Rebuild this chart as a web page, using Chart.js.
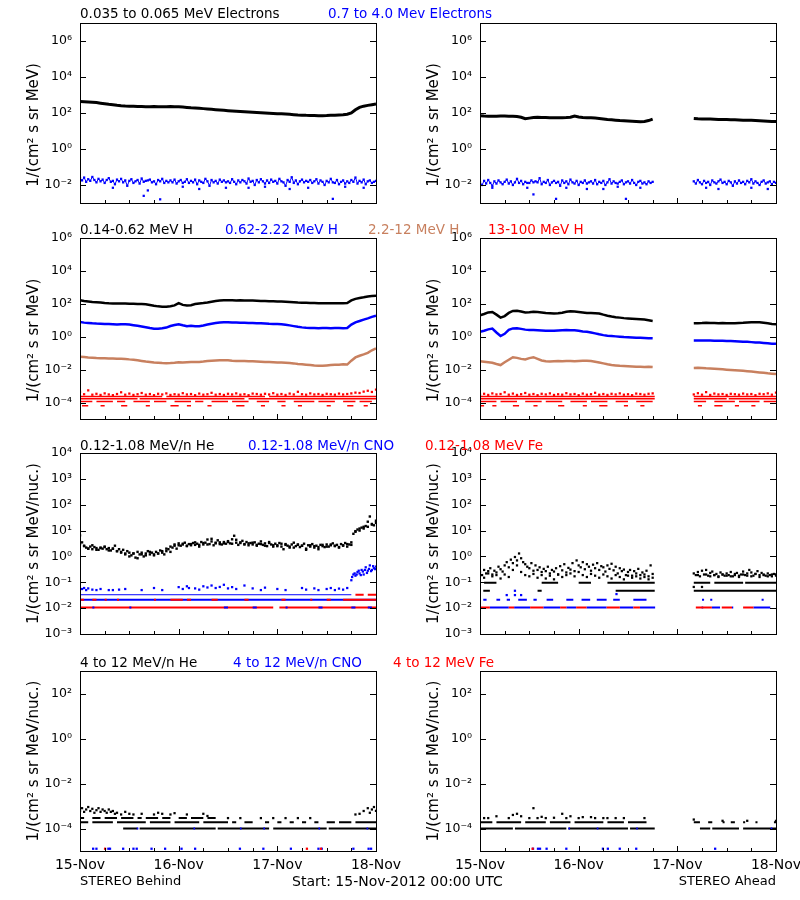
<!DOCTYPE html>
<html>
<head>
<meta charset="utf-8">
<script src="https://cdn.jsdelivr.net/npm/chart.js@4.4.1/dist/chart.umd.min.js"></script>
<style>
  body { margin: 0; background: #fff; }
  #page { position: relative; width: 800px; height: 900px; overflow: hidden; font-family: "DejaVu Sans", sans-serif; }
  canvas { position: absolute; }
  .t { position: absolute; font-size: 13.5px; line-height: 16px; white-space: nowrap; }
</style>
</head>
<body>
<div id="page">
  <canvas id="c1b" width="410" height="200" style="left:0;top:13px"></canvas>
  <canvas id="c1a" width="400" height="200" style="left:400px;top:13px"></canvas>
  <canvas id="c2b" width="410" height="201" style="left:0;top:228px"></canvas>
  <canvas id="c2a" width="400" height="201" style="left:400px;top:228px"></canvas>
  <canvas id="c3b" width="410" height="201" style="left:0;top:443px"></canvas>
  <canvas id="c3a" width="400" height="201" style="left:400px;top:443px"></canvas>
  <canvas id="c4b" width="410" height="225" style="left:0;top:661px"></canvas>
  <canvas id="c4a" width="400" height="225" style="left:400px;top:661px"></canvas>

  <div class="t" style="left:80px;top:5px;color:#000">0.035 to 0.065 MeV Electrons</div>
  <div class="t" style="left:328px;top:5px;color:#0000ff">0.7 to 4.0 Mev Electrons</div>

  <div class="t" style="left:80px;top:221px;color:#000">0.14-0.62 MeV H</div>
  <div class="t" style="left:225px;top:221px;color:#0000ff">0.62-2.22 MeV H</div>
  <div class="t" style="left:368px;top:221px;color:#c8805f">2.2-12 MeV H</div>
  <div class="t" style="left:488px;top:221px;color:#ff0000">13-100 MeV H</div>

  <div class="t" style="left:80px;top:437px;color:#000">0.12-1.08 MeV/n He</div>
  <div class="t" style="left:248px;top:437px;color:#0000ff">0.12-1.08 MeV/n CNO</div>
  <div class="t" style="left:425px;top:437px;color:#ff0000">0.12-1.08 MeV Fe</div>

  <div class="t" style="left:80px;top:654px;color:#000">4 to 12 MeV/n He</div>
  <div class="t" style="left:233px;top:654px;color:#0000ff">4 to 12 MeV/n CNO</div>
  <div class="t" style="left:393px;top:654px;color:#ff0000">4 to 12 MeV Fe</div>

  <div class="t" style="left:80px;top:873px;font-size:13px">STEREO Behind</div>
  <div class="t" style="left:292px;top:873px;font-size:14px">Start: 15-Nov-2012 00:00 UTC</div>
  <div class="t" style="right:24px;top:873px;font-size:13px">STEREO Ahead</div>
</div>
<script>
// ---- axes ----
const dayTicks = [0, 24, 48, 72];
const dayLabels = ['15-Nov', '16-Nov', '17-Nov', '18-Nov'];
const rowRanges = [[1e-3, 1e7], [1e-5, 1e6], [1e-3, 1e4], [1e-5, 1e3]];
const rowExps = [[-2, 0, 2, 4, 6], [-4, -2, 0, 2, 4, 6], [-3, -2, -1, 0, 1, 2, 3, 4], [-4, -2, 0, 2]];
const elecTitle = '1/(cm\u00b2 s sr MeV)     ';
const nucTitle = '1/(cm\u00b2 s sr MeV/nuc.)';

// ---- row 1: electrons (hourly / half-hourly) ----
const eBlackB = [430,420,410,400,380,350,325,305,290,270,255,245,
  240,235,230,228,226,224,230,226,222,225,228,224,
  222,215,205,196,190,182,175,168,160,152,146,140,
  135,130,126,122,118,114,110,107,104,100,97,94,
  92,90,87,84,81,78,76,74,73,72,70,71,
  72,74,76,78,80,85,100,150,205,240,265,290,
  316];
const eBlackA = [70,68,67,66,67,68,68,67,66,64,58,48,
  52,56,58,57,56,55,55,54,55,56,58,68,
  60,57,55,54,52,50,47,44,42,40,38,37,
  36,35,34,33,34,38,46,
  null,null,null,null,null,null,null,null,null,
  50,48,47,46,46,45,44,44,43,42,42,41,40,40,39,38,37,36,35,34,34];
const eBlueB = [0.024,0.018,0.026,0.015,0.021,0.017,0.028,0.019,0.014,0.022,0.016,0.020,
  0.013,0.019,0.024,0.015,0.017,0.011,0.020,0.016,0.022,0.014,0.018,0.009,
  0.017,0.021,0.013,0.016,0.019,0.012,0.023,0.015,0.017,0.018,0.020,0.014,
  0.016,0.011,0.019,0.016,0.022,0.013,0.017,0.014,0.018,0.014,0.020,0.012,
  0.016,0.019,0.013,0.015,0.021,0.013,0.017,0.014,0.020,0.011,0.018,0.015,
  0.013,0.022,0.016,0.009,0.019,0.014,0.017,0.012,0.020,0.015,0.018,0.014,
  0.016,0.013,0.021,0.015,0.011,0.018,0.014,0.019,0.016,0.012,0.023,0.015,
  0.017,0.010,0.019,0.014,0.021,0.016,0.012,0.018,0.013,0.020,0.015,0.017,
  0.012,0.022,0.016,0.014,0.009,0.019,0.015,0.027,0.013,0.018,0.011,0.016,
  0.020,0.014,0.017,0.015,0.019,0.013,0.016,0.021,0.012,0.018,0.015,0.010,
  0.017,0.014,0.022,0.014,0.013,0.019,0.011,0.015,0.018,0.012,0.016,0.013,
  0.019,0.015,0.026,0.012,0.017,0.014,0.020,0.011,0.016,0.018,0.013,0.015,
  0.017];
const eBlueOutB = [[15.5,0.0025],[16.5,0.005],[19.5,0.0016],[25,0.008],[35.5,0.007],[45,0.008],
  [55.5,0.007],[61.5,0.0017],[64.5,0.008],[8,0.007],[29,0.006],[41,0.007],[51,0.006],[69,0.007]];
const eBlueA = [0.014,0.010,0.017,0.012,0.019,0.013,0.009,0.016,0.012,0.018,0.014,0.011,
  0.015,0.020,0.012,0.016,0.010,0.014,0.022,0.013,0.017,0.011,0.015,0.013,
  0.013,0.018,0.014,0.016,0.014,0.024,0.011,0.015,0.013,0.019,0.010,0.014,
  0.017,0.013,0.015,0.009,0.018,0.013,0.016,0.011,0.020,0.014,0.012,0.017,
  0.010,0.015,0.013,0.018,0.012,0.014,0.016,0.012,0.019,0.011,0.015,0.013,
  0.017,0.010,0.014,0.021,0.012,0.016,0.013,0.012,0.015,0.018,0.011,0.014,
  0.016,0.012,0.019,0.013,0.010,0.015,0.017,0.012,0.014,0.011,0.016,0.013,
  0.015,
  null,null,null,null,null,null,null,null,null,null,null,null,null,null,null,null,null,null,null,
  0.016,0.012,0.019,0.014,0.011,0.017,0.013,0.015,0.010,0.018,0.014,0.012,
  0.016,0.020,0.013,0.015,0.011,0.017,0.014,0.009,0.016,0.012,0.018,0.013,
  0.015,0.011,0.017,0.014,0.021,0.012,0.016,0.013,0.010,0.015,0.018,0.012,
  0.014,0.016,0.011,0.015,0.013];
const eBlueOutA = [[11.5,0.007],[13,0.003],[18.5,0.0017],[26,0.006],[33.5,0.008],[35.5,0.0017],
  [3,0.007],[21,0.007],[30,0.006],[39,0.007],[55,0.007],[58,0.006],[66,0.007],[70,0.006]];

// ---- row 2: protons (hourly) ----
const hBlackB = [166,150,140,130,125,120,112,108,106,105,104,105,
  100,102,98,96,95,85,76,70,67,66,72,80,
  110,86,80,83,98,105,112,122,135,150,160,165,
  166,164,160,162,160,158,158,155,150,148,145,142,
  140,138,135,130,125,120,118,115,113,112,110,110,
  108,109,110,108,110,112,160,200,225,250,282,295,
  309];
const hBlueB = [7.9,7.2,6.8,6.5,6.3,6.2,6.0,6.0,5.8,5.6,5.8,5.8,
  5.5,5.0,4.6,4.2,3.8,3.4,3.1,3.1,3.3,3.6,4.5,5.2,
  5.8,5.0,4.4,4.6,4.3,4.3,4.8,5.5,6.2,6.8,7.4,7.6,
  7.6,7.4,7.2,7.0,7.0,6.9,6.9,6.7,6.5,6.3,6.1,6.0,
  5.9,5.8,5.4,4.9,4.4,4.0,3.7,3.5,3.4,3.4,3.3,3.4,
  3.4,3.3,3.4,3.4,3.3,3.4,5.5,7.5,9.0,11,13,16,
  19];
const hBrownB = [0.060,0.058,0.055,0.053,0.051,0.050,0.049,0.048,0.047,0.046,0.046,0.045,
  0.042,0.040,0.037,0.034,0.031,0.029,0.027,0.026,0.025,0.0245,0.025,0.026,
  0.028,0.027,0.028,0.029,0.029,0.0295,0.031,0.033,0.035,0.036,0.037,0.037,
  0.037,0.035,0.034,0.033,0.033,0.032,0.032,0.031,0.030,0.029,0.029,0.028,
  0.027,0.027,0.026,0.025,0.024,0.022,0.021,0.020,0.019,0.018,0.0174,0.017,
  0.018,0.019,0.020,0.020,0.021,0.0204,0.035,0.055,0.070,0.085,0.105,0.150,
  0.195];
const hBlackA = [20,24,30,32,22,14.5,18,28,37,38,34,30,
  31,33,32,30,28,27,26,27,29,33,35,34,
  32,30,28,28,27,26,22,19,17,15.5,14.5,13.5,
  13,12.5,12,11.5,11,10,9.1,
  null,null,null,null,null,null,null,null,null,
  6.6,6.7,6.8,7.0,6.9,6.8,6.7,6.8,6.6,6.6,6.6,6.8,7.0,7.3,7.5,7.6,7.6,7.0,6.5,6.0,5.8];
const hBlueA = [2.0,2.3,2.8,3.1,1.8,1.1,1.5,2.6,3.2,3.3,3.0,2.7,
  2.6,2.6,2.5,2.4,2.3,2.3,2.3,2.4,2.5,2.6,2.5,2.45,
  2.3,2.1,2.0,1.8,1.6,1.4,1.25,1.15,1.1,1.05,1.0,0.95,
  0.92,0.9,0.88,0.87,0.84,0.82,0.8,
  null,null,null,null,null,null,null,null,null,
  0.60,0.60,0.59,0.58,0.58,0.57,0.56,0.56,0.55,0.55,0.54,0.52,0.50,0.49,0.47,0.45,0.44,0.42,0.40,0.38,0.37];
const hBrownA = [0.032,0.030,0.028,0.026,0.022,0.019,0.028,0.040,0.057,0.052,0.045,0.041,
  0.050,0.057,0.045,0.036,0.032,0.031,0.032,0.033,0.032,0.033,0.034,0.032,
  0.034,0.035,0.035,0.033,0.030,0.027,0.024,0.021,0.019,0.018,0.017,0.0165,
  0.016,0.0155,0.015,0.0148,0.0145,0.015,0.0145,
  null,null,null,null,null,null,null,null,null,
  0.0126,0.0128,0.0124,0.012,0.0118,0.0115,0.011,0.0105,0.010,0.0095,0.0091,0.0088,0.0085,0.008,0.0076,0.0072,0.0068,0.0064,0.006,0.0057,0.0054];
const hRedTopB = [4.5e-4,3.2e-4,5.5e-4,3.0e-4,3.4e-4,2.9e-4,3.6e-4,3.1e-4,2.8e-4,3.3e-4,4.2e-4,3.0e-4,
  3.5e-4,2.9e-4,3.2e-4,3.8e-4,3.0e-4,3.3e-4,2.8e-4,3.4e-4,3.1e-4,3.6e-4,2.9e-4,3.2e-4,
  3.0e-4,3.7e-4,3.1e-4,3.3e-4,2.8e-4,3.5e-4,3.0e-4,3.2e-4,3.9e-4,3.0e-4,3.3e-4,2.9e-4,
  3.4e-4,3.1e-4,3.6e-4,3.0e-4,3.2e-4,2.8e-4,3.5e-4,3.3e-4,3.0e-4,3.4e-4,3.1e-4,3.7e-4,
  3.0e-4,3.3e-4,2.9e-4,3.5e-4,3.1e-4,4.5e-4,3.2e-4,3.0e-4,3.6e-4,3.1e-4,3.3e-4,2.9e-4,
  3.4e-4,3.2e-4,3.0e-4,3.5e-4,3.1e-4,3.3e-4,3.6e-4,4.0e-4,3.8e-4,4.6e-4,5.2e-4,4.4e-4,
  6.0e-4];
const hRedTopA = [3.0e-4,3.4e-4,2.9e-4,3.6e-4,3.1e-4,3.3e-4,4.2e-4,3.0e-4,3.5e-4,2.9e-4,3.2e-4,3.8e-4,
  3.0e-4,3.3e-4,2.8e-4,3.4e-4,3.1e-4,3.6e-4,2.9e-4,3.2e-4,3.0e-4,3.7e-4,3.1e-4,3.3e-4,
  2.8e-4,3.5e-4,3.0e-4,3.2e-4,3.9e-4,3.0e-4,3.3e-4,2.9e-4,3.4e-4,3.1e-4,3.6e-4,3.0e-4,
  3.2e-4,2.8e-4,3.5e-4,3.3e-4,3.0e-4,3.4e-4,3.6e-4,
  null,null,null,null,null,null,null,null,null,
  3.1e-4,3.7e-4,3.0e-4,4.3e-4,2.9e-4,3.5e-4,3.1e-4,3.3e-4,2.9e-4,3.4e-4,3.2e-4,3.0e-4,
  3.5e-4,3.1e-4,3.3e-4,2.8e-4,3.4e-4,3.2e-4,3.6e-4,3.0e-4,4.0e-4];
const hRedLevels = [2.3e-4, 1.7e-4, 1.15e-4, 6.3e-5];
const hRedSegsB = [
  [[0,20],[21,45],[46,72]],
  [[0,14],[14.5,40],[41,72]],
  [[0,3],[4,8],[9,11],[13,17],[18,21],[23,27],[28,30],[32,36],[37,41],[43,46],[48,50],[52,57],[58,62],[64,67],[68,71]],
  [[0.5,2],[5,6],[10,11.5],[16,17],[22,24],[26,27],[31,32],[38,40],[44,45],[49,50],[53,54],[60,61],[65,66.5],[69,70]]
];
const hRedSegsA = [
  [[0,42.5],[52,72]],
  [[0,42.5],[52,60],[60.5,72]],
  [[0,4],[5,9],[11,15],[16,20],[22,26],[27,31],[33,36],[38,42],[52,55],[57,62],[63,68],[69,72]],
  [[0,1],[3,4],[8,9.5],[13,14],[19,20.5],[25,26],[29,31],[35,36],[39,40],[53,54],[57,59],[62,63],[66,67]]
];

// ---- row 3: 0.12-1.08 MeV/n ----
const heB = [6.5,3.5,2.6,2.2,2.0,2.4,1.9,2.3,2.1,1.8,2.2,2.0,
  2.4,1.9,2.1,1.7,2.0,2.6,1.6,1.9,1.5,1.8,1.3,1.6,
  1.4,1.1,1.3,0.9,1.5,1.2,1.4,1.0,1.3,1.6,1.2,1.4,
  1.1,1.5,1.3,1.7,1.4,1.2,1.6,1.9,1.5,2.2,2.6,2.0,
  3.2,2.6,2.9,3.4,2.5,3.0,2.7,3.3,2.8,3.1,2.4,3.6,
  2.9,3.4,4.5,3.0,3.8,2.7,3.2,4.2,3.5,2.9,3.6,3.1,
  3.9,3.2,4.6,6.3,3.4,2.8,3.5,4.0,3.0,3.6,2.7,3.3,
  2.9,3.5,2.6,3.1,3.8,2.8,3.2,2.5,3.6,2.9,2.4,3.1,
  2.7,3.3,2.4,1.9,3.0,2.6,2.2,2.9,3.4,2.5,2.8,2.3,
  2.6,3.1,1.8,2.7,2.4,3.0,2.2,2.6,1.9,2.8,2.5,2.3,
  2.9,2.4,2.7,3.2,2.5,2.8,2.3,3.0,2.6,3.3,2.4,2.9,
  2.8,7.5,9.5,11,10,13,12,15,14,35,18,16,
  20];
const heB2 = [3.0,2.5,2.0,2.7,1.8,2.1,2.3,1.7,2.0,1.6,1.4,1.2,
  1.0,1.3,0.85,1.2,1.1,1.5,1.2,1.3,1.6,2.0,2.4,2.9,
  2.7,3.1,2.6,3.0,3.5,2.8,3.3,2.9,4.8,3.4,3.0,3.2,
  3.6,3.1,4.4,3.3,2.9,3.2,3.4,2.8,3.0,2.6,3.3,2.7,
  2.5,3.1,2.8,2.4,2.2,2.9,2.6,2.0,2.7,2.5,2.3,2.8,
  2.4,2.9,2.6,2.2,2.7,3.0,3.5,9,12,14,22,17,
  24];
const heUpA = [0.25,0.19,0.30,0.22,0.27,0.35,0.20,0.28,0.24,0.40,0.32,0.26,
  0.45,0.60,0.38,0.75,0.55,0.95,0.70,1.3,0.85,0.60,0.50,0.40,
  0.35,0.55,0.28,0.45,0.30,0.38,0.25,0.33,0.27,0.40,0.22,0.30,
  0.26,0.35,0.20,0.42,0.29,0.50,0.24,0.36,0.31,0.55,0.27,0.70,
  0.45,0.38,0.60,0.32,0.50,0.40,0.28,0.48,0.35,0.55,0.30,0.42,
  0.38,0.26,0.45,0.33,0.52,0.29,0.40,0.22,0.35,0.27,0.31,0.19,
  0.25,0.30,0.18,0.27,0.22,0.33,0.19,0.24,0.20,0.28,0.17,0.45,
  0.21,
  null,null,null,null,null,null,null,null,null,null,null,null,null,null,null,null,null,null,null,
  0.22,0.19,0.25,0.17,0.28,0.20,0.30,0.18,0.23,0.26,0.19,0.21,
  0.17,0.24,0.20,0.18,0.22,0.19,0.25,0.17,0.21,0.23,0.18,0.20,
  0.26,0.19,0.22,0.30,0.24,0.18,0.21,0.27,0.19,0.23,0.20,0.18,
  0.22,0.19,0.17,0.21,0.20];
const heUpA2 = [0.19,0.15,0.22,0.17,0.19,0.14,0.20,0.16,0.30,0.45,0.25,0.19,
  0.17,0.21,0.15,0.19,0.14,0.18,0.13,0.20,0.16,0.19,0.22,0.17,
  0.25,0.19,0.16,0.21,0.18,0.15,0.20,0.17,0.14,0.19,0.16,0.13,
  0.18,0.15,0.17,0.14,0.16,0.13,0.15,
  null,null,null,null,null,null,null,null,null,
  0.066,0.19,0.066,0.20,0.17,0.19,0.16,0.20,0.18,0.17,0.19,0.16,0.20,0.18,0.17,0.21,0.16,0.19,0.17,0.20,0.18];
const heLevelsA = [0.047, 0.095];
const heSegsA = [
  [[0.8,2.4],[14,15],[33,42.5],[52,72]],
  [[1,4],[15,19],[24,27],[31,42.5],[52,56],[57,64],[64.5,72]]
];
const lowLevels = [0.033, 0.021, 0.0105];
const cnoSegsB = [[[0,66]], [[0,72]], [[3,3.5],[12,12.5],[35,36],[42,43],[50,50.5],[58,59],[66,67],[70,71]]];
const feSegsB = [[[67,69],[70,72]],
  [[0,1],[3,4],[6,6.5],[9,9.5],[18,18.5],[22,25],[26,27],[32,33.5],[40,41],[49,50],[56,56.5],[60,61],[64,72]],
  [[0,47],[48.5,72]]];
const cnoUpperB = [[0.5,0.055],[1,0.06],[1.5,0.05],[2,0.058],[3,0.052],[4,0.05],[5,0.055],[7,0.05],[8,0.05],
  [9.5,0.052],[11,0.055],[15,0.05],[18,0.06],[20,0.05],[24,0.065],[25,0.055],[26,0.07],[26.5,0.06],[28,0.058],
  [29,0.052],[30,0.07],[31,0.063],[32,0.075],[33,0.06],[34,0.066],[35,0.08],[36,0.058],[37,0.065],[38,0.055],
  [40,0.075],[42,0.058],[44,0.05],[45,0.062],[48,0.055],[50,0.05],[54,0.06],[55,0.052],[57,0.058],[58,0.05],
  [60,0.055],[61,0.06],[62,0.05],[63,0.057],[64,0.052],[65,0.06]];
const cnoRiseB = [[66,0.12],[66.2,0.16],[66.5,0.2],[66.8,0.22],[67,0.18],[67.3,0.2],[67.5,0.25],[67.8,0.28],
  [68,0.22],[68.3,0.19],[68.5,0.3],[68.8,0.26],[69,0.2],[69.3,0.3],[69.5,0.38],[69.8,0.23],[70,0.28],
  [70.3,0.33],[70.5,0.45],[70.8,0.27],[71,0.3],[71.3,0.42],[71.5,0.35],[71.8,0.32],[72,0.4]];
const cnoLowA = [[2.4,7],[8.3,12.2],[15.4,19.5],[21,23.4],[25.9,30.8],[34,37.3],[38.9,42.6],[53.9,54.3],[56.4,58.4],[61.3,61.6],[66.5,70.6]];
const feLowA = [[0,2.4],[7,8.3],[12.2,15.4],[19.5,21],[23.4,25.9],[30.8,34],[37.3,38.9],[52.5,56.4],[58.8,61.3],[64,66.5]];
const cnoMidA = [[0.8,1.6],[4,4.9],[6.5,7.3],[9.3,11.4],[13,13.8],[16.2,17.8],[21,22.7],[24.7,26.8],[28.4,30.8],[32.4,34],[37.3,40.5],[54,54.5],[56,56.5],[68.5,69]];
const cnoPtsA = [[6.5,0.032],[8.5,0.047],[8.5,0.032],[10,0.032],[33.2,0.035]];

// ---- row 4: 4 to 12 MeV/n ----
const he4Levels = [1e-4, 1.9e-4, 2.9e-4];
const he4SegsB = [
  [[10.5,14],[14.5,33],[33.5,46],[47,60],[60.5,72]],
  [[0,2],[3,8],[9,16],[17,22],[23,29],[30,36],[37,38],[40,42],[45,46],[48,49],[51,52],[54,55],[57,58],[60,62],[63,66],[67,72]],
  [[0,1],[3,5],[6,9],[10,13],[14,15],[16,19],[20,22],[24,26],[27,30],[31,33]]
];
const he4SegsA = [
  [[0,8],[8.5,21],[21.5,36],[36.5,42.5],[53.5,56],[56.5,63],[64,72]],
  [[0,3],[4,10],[11,16],[17,22],[23,30],[31,35],[36,40.5],[52,53.5],[55.5,56.5],[59,59.5],[61,62],[64,64.5],[67,67.5],[71.5,72]],
  []
];
const he4UpperB = [[0,6e-4],[0.5,8e-4],[1,5.5e-4],[1.5,7e-4],[2,9e-4],[2.5,6e-4],[3,7.5e-4],[3.5,5e-4],[4,6.5e-4],
  [4.5,8e-4],[5,5.5e-4],[5.5,7e-4],[6,6e-4],[6.5,5e-4],[7,7e-4],[7.5,5.5e-4],[8,6e-4],[8.5,4.5e-4],[9,5e-4],
  [10,4.2e-4],[11,5.5e-4],[12,4.5e-4],[13,4.2e-4],[15,4.5e-4],[18,4.2e-4],[19,5e-4],[20,4.5e-4],[22,4.2e-4],
  [23,4.8e-4],[26,4.2e-4],[30,4.5e-4],[31,3.6e-4],[36,2.9e-4],[39,2.9e-4],[44,2.9e-4],[47,2.9e-4],[50,2.9e-4],
  [53,2.9e-4],[56,2.9e-4],[67,4.2e-4],[68,4.5e-4],[69,6e-4],[70,8e-4],[70.5,5e-4],[71,7e-4],[71.5,9e-4],[72,6e-4]];
const he4UpperA = [[1,2.9e-4],[2,2.9e-4],[4,3.5e-4],[7,2.9e-4],[8,4e-4],[9,4.5e-4],[10,3.5e-4],[12,2.9e-4],
  [13,8e-4],[14,2.9e-4],[15,3.3e-4],[16,2.9e-4],[18,3e-4],[20,4.5e-4],[21,2.9e-4],[22,3.5e-4],[24,2.9e-4],
  [25,3.2e-4],[27,3.2e-4],[28,2.9e-4],[30,2.9e-4],[31,2.9e-4],[33,2.9e-4],[35,2.9e-4],[40,2.9e-4],
  [52,2.5e-4],[59,2.2e-4],[65,2.2e-4],[72,2.2e-4]];
const cno4OnLineB = [[13.8,14.2],[27.6,28],[38.9,39.3],[44.6,45],[58,58.4],[69.7,70.1]];
const cno4OnLineA = [[21.5,21.9],[28.4,28.8],[38,38.4],[70.7,71.1]];
const bottomLevel = 1.26e-5;
const cnoBottomB = [3.2,4.0,6.9,7.3,10.5,13.0,13.8,17.4,20.7,24.7,28.0,38.9,44.6,51.3,58.0,58.8,66.5,70.2,70.8];
const feBottomB = [6.1,55.2,58.6];
const cnoBottomA = [12.9,14.1,14.6,16.2,21.0,29.9,31.1,34.0,38.0,57.2];
const feBottomA = [12.8];

const BLACK = '#000000', BLUE = '#0000ff', BROWN = '#c8805f', RED = '#ff0000';

function hourly(vals) { return vals.map((v, i) => ({x: i, y: v})); }
function halfHourly(vals) { return vals.map((v, i) => ({x: i / 2, y: v})); }
function pairs(list) { return list.map(p => ({x: p[0], y: p[1]})); }
function atLevel(times, level) { return times.map(t => ({x: t, y: level})); }
function segments(level, segs) {
    const pts = [];
    segs.forEach(s => { pts.push({x: s[0], y: level}, {x: s[1], y: level}, {x: s[1], y: null}); });
    return pts;
}
function line(data, color, width) {
    return {data, showLine: true, borderColor: color, borderWidth: width, pointRadius: 0, spanGaps: false};
}
function dots(data, color, r) {
    return {data, showLine: false, pointStyle: 'rect', pointRadius: r, backgroundColor: color, borderWidth: 0};
}
// noisy band: small squares joined by a hairline
function band(data, color) {
    return {data, showLine: true, borderColor: color, borderWidth: 1, spanGaps: false,
        pointStyle: 'rect', pointRadius: 1.6, backgroundColor: color, pointBorderWidth: 0};
}

const SUP = {'-': '\u207b', '0': '\u2070', '1': '\u00b9', '2': '\u00b2', '3': '\u00b3', '4': '\u2074',
    '5': '\u2075', '6': '\u2076', '7': '\u2077', '8': '\u2078', '9': '\u2079'};
function powLabel(v) {
    const e = Math.round(Math.log10(v));
    return '10' + String(e).split('').map(c => SUP[c]).join('');
}

// box with inward ticks
const frame = {
    id: 'frame',
    afterDatasetsDraw(chart) {
        const {ctx, chartArea: a, scales: {x, y}} = chart;
        ctx.save();
        ctx.strokeStyle = '#000';
        ctx.lineWidth = 1;
        ctx.beginPath();
        y.ticks.forEach(t => {
            const py = Math.round(y.getPixelForValue(t.value)) + 0.5;
            ctx.moveTo(a.left, py); ctx.lineTo(a.left + 6, py);
            ctx.moveTo(a.right, py); ctx.lineTo(a.right - 6, py);
        });
        for (let h = 6; h < 72; h += 6) {
            const px = Math.round(x.getPixelForValue(h)) + 0.5;
            ctx.moveTo(px, a.bottom); ctx.lineTo(px, a.bottom - (h % 24 === 0 ? 5 : 3));
        }
        ctx.stroke();
        ctx.strokeRect(a.left + 0.5, a.top + 0.5, a.right - a.left, a.bottom - a.top);
        ctx.restore();
    }
};

Chart.defaults.font.family = '"DejaVu Sans", sans-serif';
Chart.defaults.color = '#000';

function makePanel(id, row, left, datasets) {
    const showX = row === 3;
    datasets.forEach((d, i) => { d.order = datasets.length - i; });
    return new Chart(document.getElementById(id), {
        type: 'scatter',
        data: {datasets},
        options: {
            responsive: false,
            animation: false,
            devicePixelRatio: 1,
            layout: {padding: {top: 10, bottom: 10, left: 0, right: left ? 34 : 24}},
            plugins: {legend: {display: false}, tooltip: {enabled: false}},
            elements: {line: {tension: 0}},
            scales: {
                x: {
                    type: 'linear', min: 0, max: 72,
                    grid: {display: false, drawTicks: false},
                    border: {display: false},
                    ticks: {display: showX, autoSkip: false, maxRotation: 0, padding: 6,
                        font: {size: 14}, callback: v => dayLabels[dayTicks.indexOf(v)]},
                    afterBuildTicks: s => { s.ticks = dayTicks.map(v => ({value: v})); },
                    afterFit: s => { s.height = showX ? 25 : 0; s.paddingLeft = 0; s.paddingRight = 0; }
                },
                y: {
                    type: 'logarithmic', min: rowRanges[row][0], max: rowRanges[row][1],
                    grid: {display: false, drawTicks: false},
                    border: {display: false},
                    ticks: {padding: 8, autoSkip: false, font: {size: 12.5}, callback: v => powLabel(v)},
                    afterBuildTicks: s => { s.ticks = rowExps[row].map(e => ({value: Math.pow(10, e)})); },
                    title: {display: true, text: row < 2 ? elecTitle : nucTitle, font: {size: 15},
                        padding: {top: 25, bottom: 0}},
                    afterFit: s => { s.width = 80; s.paddingTop = 0; s.paddingBottom = 0; }
                }
            }
        },
        plugins: [frame]
    });
}

// row 1
makePanel('c1b', 0, true, [
    line(hourly(eBlackB), BLACK, 3),
    band(halfHourly(eBlueB), BLUE),
    dots(pairs(eBlueOutB), BLUE, 1.6)
]);
makePanel('c1a', 0, false, [
    line(hourly(eBlackA), BLACK, 3),
    band(halfHourly(eBlueA), BLUE),
    dots(pairs(eBlueOutA), BLUE, 1.6)
]);

// row 2
function protonSets(black, blue, brown, redTop, redSegs) {
    const sets = hRedLevels.map((lv, i) => line(segments(lv, redSegs[i]), RED, 1.5));
    sets.push(dots(hourly(redTop), RED, 1.6));
    sets.push(line(hourly(brown), BROWN, 2.5));
    sets.push(line(hourly(blue), BLUE, 2.5));
    sets.push(line(hourly(black), BLACK, 2.5));
    return sets;
}
makePanel('c2b', 1, true, protonSets(hBlackB, hBlueB, hBrownB, hRedTopB, hRedSegsB));
makePanel('c2a', 1, false, protonSets(hBlackA, hBlueA, hBrownA, hRedTopA, hRedSegsA));

// row 3
makePanel('c3b', 2, true, [
    line(segments(lowLevels[0], cnoSegsB[0]), BLUE, 1),
    line(segments(lowLevels[1], cnoSegsB[1]), BLUE, 2),
    line(segments(lowLevels[1], feSegsB[1]), RED, 2),
    line(segments(lowLevels[2], feSegsB[2]), RED, 2),
    line(segments(lowLevels[2], cnoSegsB[2]), BLUE, 2),
    line(segments(lowLevels[0], feSegsB[0]), RED, 2),
    dots(pairs(cnoUpperB), BLUE, 1.6),
    dots(pairs(cnoRiseB), BLUE, 1.6),
    dots(halfHourly(heB), BLACK, 1.7),
    dots(hourly(heB2), BLACK, 1.7)
]);
makePanel('c3a', 2, false, [
    line(segments(lowLevels[2], cnoLowA), BLUE, 2),
    line(segments(lowLevels[2], feLowA), RED, 2),
    line(segments(lowLevels[1], cnoMidA), BLUE, 2),
    dots(pairs(cnoPtsA), BLUE, 1.6),
    line(segments(heLevelsA[0], heSegsA[0]), BLACK, 2),
    line(segments(heLevelsA[1], heSegsA[1]), BLACK, 2),
    dots(halfHourly(heUpA), BLACK, 1.6),
    dots(hourly(heUpA2), BLACK, 1.6)
]);

// row 4
function heavySets(segs, onLine, upper, cnoBottom, feBottom) {
    const sets = he4Levels.map((lv, i) => line(segments(lv, segs[i]), BLACK, 2));
    sets.push(line(segments(he4Levels[0], onLine), BLUE, 2));
    sets.push(dots(pairs(upper), BLACK, 1.6));
    sets.push(dots(atLevel(cnoBottom, bottomLevel), BLUE, 1.6));
    sets.push(dots(atLevel(feBottom, bottomLevel), RED, 1.6));
    return sets;
}
makePanel('c4b', 3, true, heavySets(he4SegsB, cno4OnLineB, he4UpperB, cnoBottomB, feBottomB));
makePanel('c4a', 3, false, heavySets(he4SegsA, cno4OnLineA, he4UpperA, cnoBottomA, feBottomA));
</script>
</body>
</html>
